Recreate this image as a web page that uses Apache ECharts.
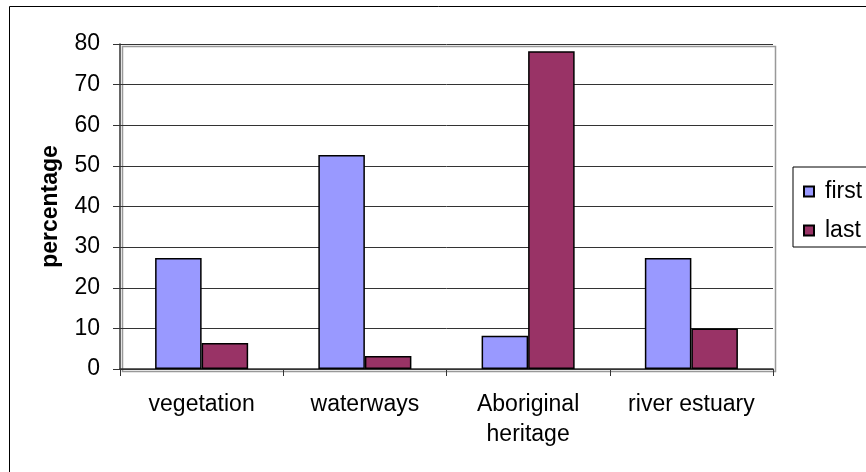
<!DOCTYPE html>
<html>
<head>
<meta charset="utf-8">
<script src="https://cdn.jsdelivr.net/npm/echarts@6/dist/echarts.min.js"></script>
<style>
html,body{margin:0;padding:0;background:#fff;}
#chart{width:866px;height:472px;}
</style>
</head>
<body>
<div id="chart"></div>
<script>
var categories = ['vegetation', 'waterways', 'Aboriginal\nheritage', 'river estuary'];
var firstValues = [27.3, 52.7, 8.2, 27.3];
var lastValues = [6.4, 3.2, 78.2, 10];
var yTicks = [0, 10, 20, 30, 40, 50, 60, 70, 80];

var chart = echarts.init(document.getElementById('chart'), null, {renderer: 'canvas'});
var font = 'Liberation Sans, Arial, sans-serif';
chart.setOption({
  animation: false,
  backgroundColor: '#fff',
  graphic: [{
    type: 'rect', left: 7, top: 4, z: -1,
    shape: {width: 900, height: 500},
    style: {fill: 'none', stroke: '#000', lineWidth: 1}
  }, {
    type: 'rect', left: 120, top: 44, z: -1,
    shape: {width: 653, height: 325},
    style: {fill: 'none', stroke: '#999', lineWidth: 1.5}
  }],
  grid: {left: 120, right: 93, top: 44, bottom: 103, containLabel: false},
  legend: {
    orient: 'vertical',
    left: 793, top: 167,
    itemWidth: 10, itemHeight: 10, itemGap: 16,
    icon: 'rect',
    padding: [13, 30, 5, 10],
    borderColor: '#000', borderWidth: 1,
    textStyle: {fontFamily: font, fontSize: 23, color: '#000', padding: [0, 0, 0, 6]},
    data: ['first', 'last']
  },
  xAxis: {
    type: 'category',
    data: categories,
    axisLine: {lineStyle: {color: '#333', width: 1.5}},
    axisTick: {show: true, inside: false, length: 7, lineStyle: {color: '#333'}},
    axisLabel: {interval: 0, hideOverlap: false, fontFamily: font, fontSize: 23, color: '#000', margin: 21, lineHeight: 30}
  },
  yAxis: {
    type: 'value',
    min: yTicks[0], max: yTicks[yTicks.length - 1], interval: 10,
    name: 'percentage',
    nameLocation: 'middle',
    nameGap: 58,
    nameTextStyle: {fontFamily: font, fontSize: 23, fontWeight: 'bold', color: '#000'},
    axisLine: {show: true, lineStyle: {color: '#333', width: 1.5}},
    axisTick: {show: true, inside: false, length: 7, lineStyle: {color: '#333'}},
    axisLabel: {fontFamily: font, fontSize: 23, color: '#000', margin: 20},
    splitLine: {lineStyle: {color: '#333', width: 1}}
  },
  series: [{
    name: 'first', type: 'bar', data: firstValues,
    barGap: '0%', barCategoryGap: '43%',
    itemStyle: {color: '#9999FF', borderColor: '#000', borderWidth: 1.5}
  }, {
    name: 'last', type: 'bar', data: lastValues,
    barGap: '0%', barCategoryGap: '43%',
    itemStyle: {color: '#993366', borderColor: '#000', borderWidth: 1.5}
  }]
});
</script>
</body>
</html>
